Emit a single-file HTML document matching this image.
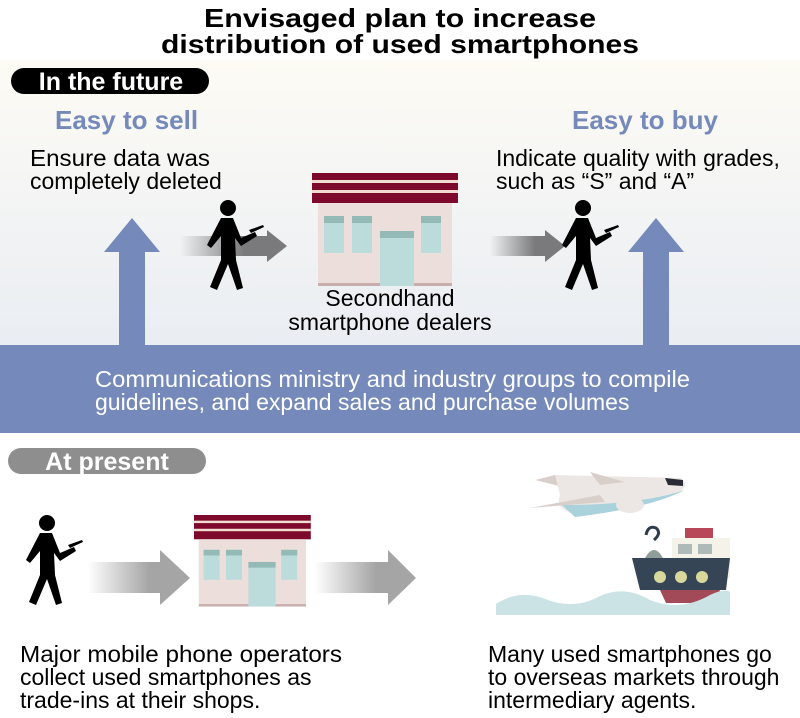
<!DOCTYPE html>
<html><head><meta charset="utf-8"><style>
html,body{margin:0;padding:0;background:#fff}
svg{display:block}
text{font-family:"Liberation Sans",Arial,sans-serif}
</style></head><body>
<svg width="800" height="718" viewBox="0 0 800 718" xmlns="http://www.w3.org/2000/svg">
<defs>
<linearGradient id="bg" x1="0" y1="0" x2="0" y2="1">
<stop offset="0" stop-color="#fdfbf4"/><stop offset="1" stop-color="#e9edf3"/></linearGradient>
<linearGradient id="ga" x1="0" y1="0" x2="1" y2="0">
<stop offset="0" stop-color="#7a7a7c" stop-opacity="0"/><stop offset="0.6" stop-color="#7a7a7c"/></linearGradient>
<linearGradient id="gb" x1="0" y1="0" x2="1" y2="0">
<stop offset="0" stop-color="#a5a5a5" stop-opacity="0"/><stop offset="0.6" stop-color="#a5a5a5"/></linearGradient>
<g id="store">
<rect x="0" y="0" width="146" height="30" fill="#7d0a2c"/>
<rect x="0" y="7" width="146" height="3" fill="#f1dcd2"/>
<rect x="0" y="17" width="146" height="3" fill="#f1dcd2"/>
<rect x="6" y="30" width="134" height="83" fill="#ecdeda"/>
<rect x="6" y="110" width="134" height="3" fill="#c9aeae"/>
<rect x="12" y="43" width="20" height="37" fill="#bcdcdc"/><rect x="12" y="43" width="20" height="7" fill="#94bab6"/>
<rect x="40" y="43" width="20" height="37" fill="#bcdcdc"/><rect x="40" y="43" width="20" height="7" fill="#94bab6"/>
<rect x="109" y="43" width="20" height="37" fill="#bcdcdc"/><rect x="109" y="43" width="20" height="7" fill="#94bab6"/>
<rect x="68" y="58" width="34" height="55" fill="#bcdcdc"/><rect x="68" y="58" width="34" height="7" fill="#94bab6"/>
</g>
<g id="man" fill="#000">
<circle cx="23" cy="8" r="8"/>
<path d="M16 18 L28 18 L36 38 L50 32 L52 36 L36 46 L30 38 L31 60 L38 88 L32 90 L23 64 L12 90 L5 87 L16 60 L16 36 L6 48 L2 45 Z"/>
<path d="M44 30 L58 25 L59 27 L46 33Z"/>
</g>
</defs>
<rect x="0" y="60" width="800" height="290" fill="url(#bg)"/>
<text x="400" y="27" text-anchor="middle" font-size="26" font-weight="bold" textLength="392" lengthAdjust="spacingAndGlyphs">Envisaged plan to increase</text>
<text x="400" y="53" text-anchor="middle" font-size="26" font-weight="bold" textLength="478" lengthAdjust="spacingAndGlyphs">distribution of used smartphones</text>
<rect x="11" y="68" width="198" height="26" rx="13" fill="#000"/>
<text x="111" y="90" text-anchor="middle" font-size="25" font-weight="bold" fill="#fff">In the future</text>
<text x="55" y="129" font-size="26" font-weight="bold" fill="#7589ba">Easy to sell</text>
<text x="30" y="166" font-size="23" textLength="180" lengthAdjust="spacingAndGlyphs">Ensure data was</text>
<text x="30" y="189" font-size="23">completely deleted</text>
<text x="572" y="129" font-size="26" font-weight="bold" fill="#7589ba">Easy to buy</text>
<text x="496" y="166" font-size="23">Indicate quality with grades,</text>
<text x="496" y="189" font-size="23">such as “S” and “A”</text>
<path d="M119 350 L119 252 L104 252 L132 218 L160 252 L145 252 L145 350Z" fill="#7589ba"/>
<path d="M643 350 L643 252 L628 252 L656 218 L684 252 L669 252 L669 350Z" fill="#7589ba"/>
<rect x="0" y="345" width="800" height="88" fill="#7589ba"/>
<text x="95" y="387" font-size="23" fill="#fff" textLength="595" lengthAdjust="spacingAndGlyphs">Communications ministry and industry groups to compile</text>
<text x="95" y="410" font-size="23" fill="#fff">guidelines, and expand sales and purchase volumes</text>
<path d="M180 236 L267 236 L267 230 L287 246 L267 262 L267 256 L180 256Z" fill="url(#ga)"/>
<path d="M490 236 L545 236 L545 230 L565 246 L545 262 L545 256 L490 256Z" fill="url(#ga)"/>
<use href="#man" x="205" y="200"/>
<use href="#man" x="560" y="200"/>
<use href="#store" x="312" y="173"/>
<text x="390" y="306" text-anchor="middle" font-size="23">Secondhand</text>
<text x="390" y="330" text-anchor="middle" font-size="23">smartphone dealers</text>
<rect x="8" y="448" width="198" height="26" rx="13" fill="#8e8e8e"/>
<text x="107" y="470" text-anchor="middle" font-size="25" font-weight="bold" fill="#fff">At present</text>
<path d="M88 562 L160 562 L160 550 L190 578 L160 605 L160 593 L88 593Z" fill="url(#gb)"/>
<path d="M315 562 L388 562 L388 550 L416 578 L388 605 L388 593 L315 593Z" fill="url(#gb)"/>
<use href="#man" x="24" y="515"/>
<g transform="translate(194,515) scale(0.8,0.81)"><use href="#store"/></g>
<g>
<path d="M535 480 L555 475 L575 490Z" fill="#d8cfcb"/>
<path d="M555 475 L680 478 Q690 484 680 492 Q640 505 570 512 Q555 508 560 495Z" fill="#ece7e4"/>
<path d="M562 505 Q640 505 685 490 Q650 508 575 517Z" fill="#a9d2dc"/>
<path d="M590 472 L625 482 L600 485Z" fill="#d8cfcb"/>
<path d="M530 508 L600 495 L605 502Z" fill="#d8cfcb"/>
<ellipse cx="630" cy="505" rx="14" ry="8" fill="#ece7e4"/>
<path d="M665 478 L683 480 L683 486 L668 485Z" fill="#2b2b35"/>
</g>
<g>
<rect x="685" y="528" width="28" height="10" fill="#b8475a"/>
<rect x="672" y="538" width="58" height="40" fill="#f5f2ea"/>
<rect x="678" y="544" width="14" height="10" fill="#aebab8"/>
<rect x="698" y="544" width="14" height="10" fill="#aebab8"/>
<path d="M644 560 Q654 540 664 560 L664 578 L644 578Z" fill="#8f9e98"/>
<path d="M646 535 Q648 525 656 528 Q662 533 654 540" fill="none" stroke="#2d3b4c" stroke-width="3"/>
<path d="M632 558 L730 558 L726 590 L640 590Z" fill="#354556"/>
<circle cx="660" cy="577" r="6" fill="#d8d89b"/><circle cx="681" cy="577" r="6" fill="#d8d89b"/><circle cx="702" cy="577" r="6" fill="#d8d89b"/>
<path d="M660 590 L720 590 L715 603 L666 603Z" fill="#a24a57"/>
<path d="M496 604 Q520 588 548 600 Q575 610 600 596 Q625 585 650 600 Q680 612 710 595 Q725 588 730 592 L730 615 L496 615Z" fill="#cbe3e5"/>
</g>
<text x="20" y="662" font-size="23" textLength="322" lengthAdjust="spacingAndGlyphs">Major mobile phone operators</text>
<text x="20" y="685" font-size="23">collect used smartphones as</text>
<text x="20" y="708" font-size="23">trade-ins at their shops.</text>
<text x="488" y="662" font-size="23">Many used smartphones go</text>
<text x="488" y="685" font-size="23">to overseas markets through</text>
<text x="488" y="708" font-size="23">intermediary agents.</text>
</svg>
</body></html>
